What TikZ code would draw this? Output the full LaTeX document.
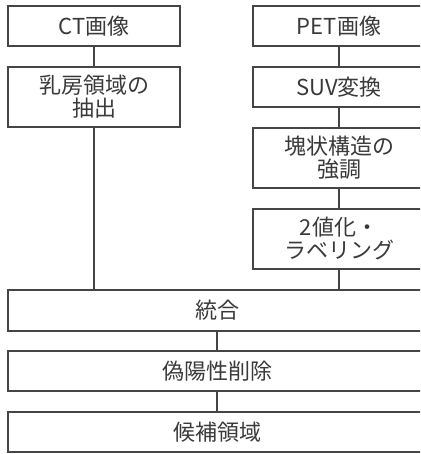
\documentclass[tikz,border=0pt]{standalone}
\usepackage{fontspec}
\setmainfont{Noto Sans CJK JP}
\definecolor{boxline}{HTML}{454545}
\definecolor{txt}{HTML}{3A3A3A}
\begin{document}
\begin{tikzpicture}[x=1pt,y=-1pt,
  box/.style={draw=boxline, line width=1.8pt, fill=white, text=txt, align=center,
    inner sep=0pt, font=\fontsize{22}{23}\selectfont},
  link/.style={draw=boxline, line width=1.8pt}]
\useasboundingbox (0,0) rectangle (420,454);
\clip (0,0) rectangle (420,454);
% left column
\node[box, minimum width=172pt, minimum height=40pt] (ct) at (94,26) {CT画像};
\node[box, minimum width=172pt, minimum height=60pt] (breast) at (94,97) {乳房領域の\\抽出};
% right column
\node[box, minimum width=172pt, minimum height=40pt] (pet) at (339,26) {PET画像};
\node[box, minimum width=172pt, minimum height=40pt] (suv) at (339,87) {SUV変換};
\node[box, minimum width=172pt, minimum height=60pt] (enh) at (339,158) {塊状構造の\\強調};
\node[box, minimum width=172pt, minimum height=60pt] (bin) at (339,239) {2値化・\\ラベリング};
% bottom
\node[box, minimum width=418pt, minimum height=41pt] (merge) at (217,310.5) {統合};
\node[box, minimum width=418pt, minimum height=40pt] (fp) at (217,371) {偽陽性削除};
\node[box, minimum width=418pt, minimum height=40pt] (cand) at (217,432) {候補領域};
% connectors
\draw[link] (ct) -- (breast);
\draw[link] (breast.south) -- (breast.south |- merge.north);
\draw[link] (pet) -- (suv);
\draw[link] (suv) -- (enh);
\draw[link] (enh) -- (bin);
\draw[link] (bin.south) -- (bin.south |- merge.north);
\draw[link] (merge) -- (fp);
\draw[link] (fp) -- (cand);
\end{tikzpicture}
\end{document}
